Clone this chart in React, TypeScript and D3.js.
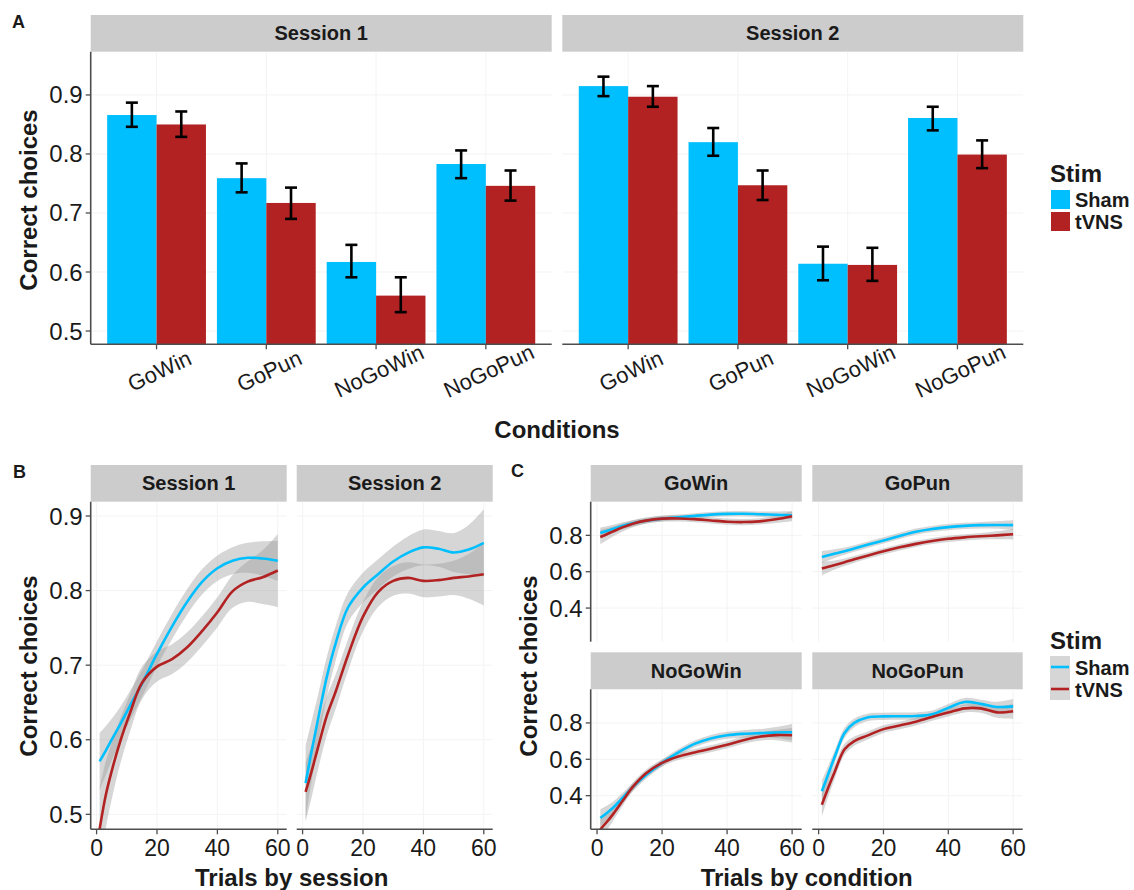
import React from 'react';
import * as d3 from 'd3';

// ---- panel A data (bar means with error bar limits) ----
const conditions = ['GoWin', 'GoPun', 'NoGoWin', 'NoGoPun'];
const sessions = ['Session 1', 'Session 2'];
const stims = ['Sham', 'tVNS'];

const sham1Mean = [0.866, 0.759, 0.617, 0.783];
const sham1Lo = [0.846, 0.735, 0.591, 0.759];
const sham1Hi = [0.887, 0.784, 0.646, 0.806];
const tvns1Mean = [0.850, 0.717, 0.560, 0.746];
const tvns1Lo = [0.829, 0.690, 0.532, 0.721];
const tvns1Hi = [0.872, 0.743, 0.591, 0.772];

const sham2Mean = [0.915, 0.820, 0.614, 0.861];
const sham2Lo = [0.898, 0.797, 0.586, 0.840];
const sham2Hi = [0.931, 0.844, 0.643, 0.880];
const tvns2Mean = [0.897, 0.747, 0.612, 0.799];
const tvns2Lo = [0.880, 0.722, 0.585, 0.776];
const tvns2Hi = [0.915, 0.772, 0.641, 0.823];

const yTicksA = [0.5, 0.6, 0.7, 0.8, 0.9];

// ---- panels B and C data (smoothed curves, sampled at trials) ----
const trials = [1, 3, 5, 8, 11, 15, 20, 25, 30, 35, 40, 45, 50, 55, 60];
const xTicks = [0, 20, 40, 60];
const yTicksB = [0.5, 0.6, 0.7, 0.8, 0.9];
const yTicksC = [0.4, 0.6, 0.8];

const s1Sham = [0.571, 0.585, 0.600, 0.622, 0.645, 0.675, 0.715, 0.752, 0.785, 0.812, 0.830, 0.840, 0.844, 0.843, 0.840];
const s1ShamBand = [0.038, 0.033, 0.028, 0.023, 0.020, 0.018, 0.017, 0.017, 0.017, 0.017, 0.017, 0.018, 0.020, 0.023, 0.027];
const s1Tvns = [0.480, 0.525, 0.558, 0.600, 0.635, 0.676, 0.698, 0.708, 0.724, 0.746, 0.771, 0.799, 0.812, 0.818, 0.827];
const s1TvnsBand = [0.055, 0.045, 0.038, 0.030, 0.025, 0.022, 0.020, 0.020, 0.020, 0.020, 0.020, 0.022, 0.027, 0.036, 0.049];

const s2Sham = [0.542, 0.585, 0.625, 0.684, 0.730, 0.777, 0.804, 0.822, 0.839, 0.851, 0.858, 0.856, 0.851, 0.855, 0.864];
const s2ShamBand = [0.050, 0.040, 0.033, 0.027, 0.023, 0.020, 0.020, 0.020, 0.020, 0.022, 0.024, 0.024, 0.026, 0.033, 0.045];
const s2Tvns = [0.530, 0.558, 0.588, 0.632, 0.665, 0.713, 0.765, 0.798, 0.813, 0.817, 0.813, 0.814, 0.817, 0.819, 0.822];
const s2TvnsBand = [0.040, 0.035, 0.030, 0.026, 0.023, 0.021, 0.020, 0.020, 0.020, 0.021, 0.022, 0.022, 0.023, 0.030, 0.042];

const goWinSham = [0.813, 0.824, 0.836, 0.853, 0.866, 0.880, 0.892, 0.899, 0.907, 0.914, 0.918, 0.919, 0.916, 0.913, 0.910];
const goWinShamBand = [0.030, 0.026, 0.022, 0.019, 0.017, 0.015, 0.015, 0.015, 0.015, 0.015, 0.015, 0.015, 0.015, 0.018, 0.022];
const goWinTvns = [0.791, 0.806, 0.822, 0.845, 0.864, 0.881, 0.892, 0.893, 0.889, 0.882, 0.875, 0.873, 0.877, 0.888, 0.905];
const goWinTvnsBand = [0.040, 0.033, 0.027, 0.022, 0.019, 0.017, 0.017, 0.017, 0.017, 0.017, 0.017, 0.017, 0.017, 0.020, 0.027];

const goPunSham = [0.681, 0.690, 0.700, 0.713, 0.728, 0.748, 0.772, 0.797, 0.820, 0.835, 0.845, 0.852, 0.856, 0.857, 0.856];
const goPunShamBand = [0.033, 0.028, 0.024, 0.020, 0.018, 0.017, 0.017, 0.017, 0.017, 0.017, 0.017, 0.017, 0.018, 0.021, 0.027];
const goPunTvns = [0.617, 0.627, 0.637, 0.652, 0.668, 0.688, 0.712, 0.734, 0.753, 0.769, 0.781, 0.789, 0.795, 0.800, 0.806];
const goPunTvnsBand = [0.036, 0.030, 0.025, 0.021, 0.019, 0.017, 0.017, 0.017, 0.017, 0.017, 0.017, 0.017, 0.018, 0.022, 0.029];

const noGoWinSham = [0.277, 0.305, 0.335, 0.390, 0.447, 0.512, 0.580, 0.638, 0.685, 0.715, 0.732, 0.740, 0.744, 0.747, 0.749];
const noGoWinShamBand = [0.048, 0.040, 0.033, 0.027, 0.023, 0.020, 0.019, 0.019, 0.019, 0.019, 0.019, 0.020, 0.022, 0.030, 0.045];
const noGoWinTvns = [0.215, 0.255, 0.300, 0.375, 0.448, 0.522, 0.580, 0.615, 0.638, 0.658, 0.680, 0.705, 0.724, 0.733, 0.732];
const noGoWinTvnsBand = [0.055, 0.045, 0.036, 0.028, 0.023, 0.020, 0.019, 0.019, 0.019, 0.019, 0.019, 0.020, 0.022, 0.028, 0.040];

const noGoPunSham = [0.424, 0.520, 0.615, 0.745, 0.800, 0.830, 0.836, 0.837, 0.838, 0.848, 0.883, 0.915, 0.905, 0.888, 0.891];
const noGoPunShamBand = [0.060, 0.045, 0.035, 0.028, 0.024, 0.021, 0.020, 0.020, 0.020, 0.020, 0.021, 0.022, 0.023, 0.028, 0.040];
const noGoPunTvns = [0.350, 0.445, 0.533, 0.655, 0.700, 0.730, 0.766, 0.786, 0.807, 0.833, 0.857, 0.880, 0.880, 0.858, 0.864];
const noGoPunTvnsBand = [0.065, 0.050, 0.038, 0.030, 0.025, 0.022, 0.021, 0.021, 0.021, 0.021, 0.021, 0.022, 0.024, 0.030, 0.042];

const FONT = '"Liberation Sans", Arial, Helvetica, sans-serif';
const SHAM = '#00BFFF';
const TVNS = '#B22222';
const AXIS = '#4d4d4d';
const GRID = '#f3f3f3';
const STRIP = '#cccccc';
const TXT = '#1a1a1a';
const colors = [SHAM, TVNS];

const fmt = d3.format('.1f');

// strip header
const Strip = ({x0, x1, y0, y1, label}) => (
  <g>
    <rect x={x0} y={y0} width={x1 - x0} height={y1 - y0} fill={STRIP} />
    <text x={(x0 + x1) / 2} y={(y0 + y1) / 2} textAnchor="middle" dominantBaseline="central"
      fontWeight="bold" fontSize={20} fill={TXT}>{label}</text>
  </g>
);

const LeftAxis = ({y, ticks, x, top, bottom}) => (
  <g>
    <line x1={x} x2={x} y1={top} y2={bottom} stroke={AXIS} strokeWidth={1.6} />
    {ticks.map(t => (
      <g key={t}>
        <line x1={x - 5} x2={x} y1={y(t)} y2={y(t)} stroke={AXIS} strokeWidth={1.3} />
        <text x={x - 8} y={y(t)} textAnchor="end" dominantBaseline="central" fontSize={24} fill={TXT}>{fmt(t)}</text>
      </g>
    ))}
  </g>
);

const BottomAxisNum = ({x, ticks, y0, left, right}) => (
  <g>
    <line x1={left} x2={right} y1={y0} y2={y0} stroke={AXIS} strokeWidth={1.6} />
    {ticks.map(t => (
      <g key={t}>
        <line x1={x(t)} x2={x(t)} y1={y0} y2={y0 + 5} stroke={AXIS} strokeWidth={1.3} />
        <text x={x(t)} y={y0 + 27} textAnchor="middle" fontSize={23} fill={TXT}>{t}</text>
      </g>
    ))}
  </g>
);

// ---------- Panel A ----------
const barData = [
  [[sham1Mean, sham1Lo, sham1Hi], [tvns1Mean, tvns1Lo, tvns1Hi]],
  [[sham2Mean, sham2Lo, sham2Hi], [tvns2Mean, tvns2Lo, tvns2Hi]],
];

const PanelA = () => {
  const top = 51.7, bottom = 344.3, stripTop = 15;
  const cols = [[90.7, 551.7], [562.3, 1023.3]];
  const y = d3.scaleLinear().domain([0.4775, 0.9733]).range([bottom, top]);
  return (
    <g>
      <text x={12} y={28} fontWeight="bold" fontSize={18} fill={TXT}>A</text>
      {sessions.map((s, si) => {
        const [l, r] = cols[si];
        const x = d3.scaleBand().domain(conditions).range([l, r]).paddingInner(0.1).paddingOuter(0.15);
        const bw = x.bandwidth() / 2;
        return (
          <g key={s}>
            <Strip x0={l} x1={r} y0={stripTop} y1={top} label={s} />
            {yTicksA.map(t => (
              <line key={t} x1={l} x2={r} y1={y(t)} y2={y(t)} stroke={GRID} strokeWidth={1} />
            ))}
            {conditions.map(c => (
              <line key={c} x1={x(c) + bw} x2={x(c) + bw} y1={top} y2={bottom} stroke={GRID} strokeWidth={1} />
            ))}
            {stims.map((st, k) => {
              const [m, lo, hi] = barData[si][k];
              return conditions.map((c, i) => {
                const bx = x(c) + k * bw;
                const cx = bx + bw / 2;
                return (
                  <g key={st + c}>
                    <rect x={bx} y={y(m[i])} width={bw} height={bottom - y(m[i])} fill={colors[k]} />
                    <g stroke="#000" strokeWidth={2.6}>
                      <line x1={cx} x2={cx} y1={y(lo[i])} y2={y(hi[i])} />
                      <line x1={cx - 6} x2={cx + 6} y1={y(lo[i])} y2={y(lo[i])} />
                      <line x1={cx - 6} x2={cx + 6} y1={y(hi[i])} y2={y(hi[i])} />
                    </g>
                  </g>
                );
              });
            })}
            <line x1={l} x2={r} y1={bottom} y2={bottom} stroke={AXIS} strokeWidth={1.6} />
            {conditions.map(c => {
              const cx = x(c) + bw;
              return (
                <g key={c}>
                  <line x1={cx} x2={cx} y1={bottom} y2={bottom + 5} stroke={AXIS} strokeWidth={1.3} />
                  <text transform={`translate(${cx + 3},${371}) rotate(-25)`} textAnchor="middle"
                    dominantBaseline="central" fontSize={22} fill={TXT}>{c}</text>
                </g>
              );
            })}
            {si === 0 && <LeftAxis y={y} ticks={yTicksA} x={l} top={top} bottom={bottom} />}
          </g>
        );
      })}
      <text transform={`translate(28,200) rotate(-90)`} textAnchor="middle" dominantBaseline="central"
        fontWeight="bold" fontSize={24} fill={TXT}>Correct choices</text>
      <text x={557} y={438} textAnchor="middle" fontWeight="bold" fontSize={24} fill={TXT}>Conditions</text>
      {/* legend */}
      <text x={1050} y={182} fontWeight="bold" fontSize={24} fill={TXT}>Stim</text>
      {stims.map((st, k) => (
        <g key={st}>
          <rect x={1051} y={190 + k * 22} width={19} height={19} fill={colors[k]} />
          <text x={1075} y={200 + k * 22} dominantBaseline="central" fontWeight="bold" fontSize={20} fill={TXT}>{st}</text>
        </g>
      ))}
    </g>
  );
};

// ---------- smooth line panel ----------
const SmoothPanel = ({id, l, r, top, bottom, yDomain, yTicks, series}) => {
  const x = d3.scaleLinear().domain([-1.95, 62.95]).range([l, r]);
  const y = d3.scaleLinear().domain(yDomain).range([bottom, top]);
  const line = d3.line().x((d, i) => x(trials[i])).y(d => y(d)).curve(d3.curveCatmullRom);
  return (
    <g>
      <defs>
        <clipPath id={id}><rect x={l} y={top} width={r - l} height={bottom - top} /></clipPath>
      </defs>
      {yTicks.map(t => (
        <line key={t} x1={l} x2={r} y1={y(t)} y2={y(t)} stroke={GRID} strokeWidth={1} />
      ))}
      {xTicks.map(t => (
        <line key={t} x1={x(t)} x2={x(t)} y1={top} y2={bottom} stroke={GRID} strokeWidth={1} />
      ))}
      <g clipPath={`url(#${id})`}>
        {series.map(([vals, band], k) => {
          const area = d3.area()
            .x((d, i) => x(trials[i]))
            .y0((d, i) => y(vals[i] - band[i]))
            .y1((d, i) => y(vals[i] + band[i]))
            .curve(d3.curveCatmullRom);
          return <path key={'b' + k} d={area(vals)} fill="#999999" fillOpacity={0.4} />;
        })}
        {series.map(([vals], k) => (
          <path key={'l' + k} d={line(vals)} fill="none" stroke={colors[k]} strokeWidth={2.6} />
        ))}
      </g>
    </g>
  );
};

const PanelB = () => {
  const top = 501.7, bottom = 829.3, stripTop = 465;
  const cols = [[90.7, 286.7], [296.7, 492.7]];
  const dom = [0.4799, 0.9192];
  const data = [[[s1Sham, s1ShamBand], [s1Tvns, s1TvnsBand]], [[s2Sham, s2ShamBand], [s2Tvns, s2TvnsBand]]];
  const y = d3.scaleLinear().domain(dom).range([bottom, top]);
  return (
    <g>
      <text x={13} y={478} fontWeight="bold" fontSize={18} fill={TXT}>B</text>
      {sessions.map((s, si) => {
        const [l, r] = cols[si];
        const x = d3.scaleLinear().domain([-1.95, 62.95]).range([l, r]);
        return (
          <g key={s}>
            <Strip x0={l} x1={r} y0={stripTop} y1={top} label={s} />
            <SmoothPanel id={'clipB' + si} l={l} r={r} top={top} bottom={bottom} yDomain={dom} yTicks={yTicksB} series={data[si]} />
            <BottomAxisNum x={x} ticks={xTicks} y0={bottom} left={l} right={r} />
            {si === 0 && <LeftAxis y={y} ticks={yTicksB} x={l} top={top} bottom={bottom} />}
          </g>
        );
      })}
      <text transform={`translate(28,666) rotate(-90)`} textAnchor="middle" dominantBaseline="central"
        fontWeight="bold" fontSize={24} fill={TXT}>Correct choices</text>
      <text x={291.7} y={886} textAnchor="middle" fontWeight="bold" fontSize={24} fill={TXT}>Trials by session</text>
    </g>
  );
};

const PanelC = () => {
  const cols = [[590.7, 801.7], [812.3, 1022.7]];
  const rows = [[465, 501.7, 641.7], [652.3, 689.3, 829.3]];
  const dom = [0.215, 0.985];
  const data = [
    [[goWinSham, goWinShamBand], [goWinTvns, goWinTvnsBand]],
    [[goPunSham, goPunShamBand], [goPunTvns, goPunTvnsBand]],
    [[noGoWinSham, noGoWinShamBand], [noGoWinTvns, noGoWinTvnsBand]],
    [[noGoPunSham, noGoPunShamBand], [noGoPunTvns, noGoPunTvnsBand]],
  ];
  return (
    <g>
      <text x={511} y={477} fontWeight="bold" fontSize={18} fill={TXT}>C</text>
      {conditions.map((c, i) => {
        const [l, r] = cols[i % 2];
        const [st, top, bottom] = rows[Math.floor(i / 2)];
        const x = d3.scaleLinear().domain([-1.95, 62.95]).range([l, r]);
        const y = d3.scaleLinear().domain(dom).range([bottom, top]);
        return (
          <g key={c}>
            <Strip x0={l} x1={r} y0={st} y1={top} label={c} />
            <SmoothPanel id={'clipC' + i} l={l} r={r} top={top} bottom={bottom} yDomain={dom} yTicks={yTicksC} series={data[i]} />
            {i >= 2 && <BottomAxisNum x={x} ticks={xTicks} y0={bottom} left={l} right={r} />}
            {i % 2 === 0 && <LeftAxis y={y} ticks={yTicksC} x={l} top={top} bottom={bottom} />}
          </g>
        );
      })}
      <text transform={`translate(528,666) rotate(-90)`} textAnchor="middle" dominantBaseline="central"
        fontWeight="bold" fontSize={24} fill={TXT}>Correct choices</text>
      <text x={806.7} y={886} textAnchor="middle" fontWeight="bold" fontSize={24} fill={TXT}>Trials by condition</text>
      {/* legend */}
      <text x={1050} y={649} fontWeight="bold" fontSize={24} fill={TXT}>Stim</text>
      {stims.map((s, k) => (
        <g key={s}>
          <rect x={1050} y={656 + k * 22} width={20} height={22} fill="#999999" fillOpacity={0.4} />
          <line x1={1051} x2={1069} y1={667 + k * 22} y2={667 + k * 22} stroke={colors[k]} strokeWidth={2.6} />
          <text x={1075} y={668 + k * 21.5} dominantBaseline="central" fontWeight="bold" fontSize={20} fill={TXT}>{s}</text>
        </g>
      ))}
    </g>
  );
};

export default function App() {
  return (
    <div style={{position: 'absolute', left: 0, top: 0, background: '#fff'}}>
      <svg width={1134} height={890} style={{display: 'block', fontFamily: FONT}}>
        <rect width={1134} height={890} fill="#fff" />
        <PanelA />
        <PanelB />
        <PanelC />
      </svg>
    </div>
  );
}
